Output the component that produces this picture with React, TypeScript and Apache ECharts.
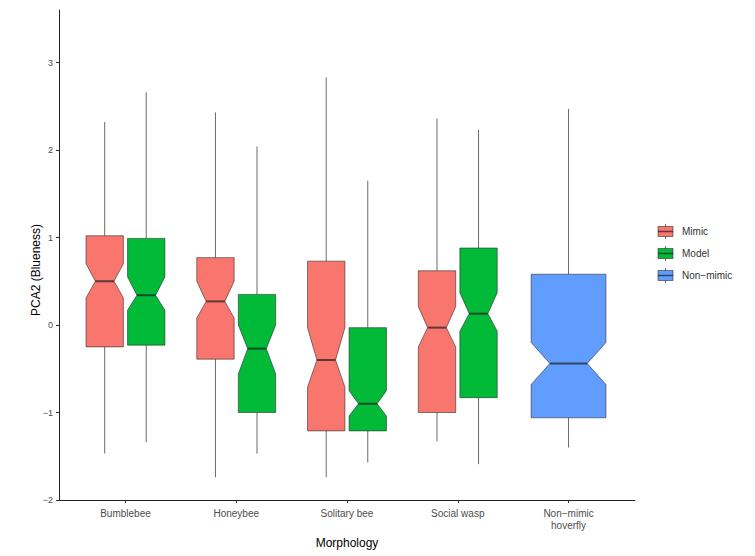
import React, { useEffect, useRef } from "react";
import * as echarts from "echarts";

// Categories (x axis)
const categories = ["Bumblebee", "Honeybee", "Solitary bee", "Social wasp", "Non−mimic\nhoverfly"];
const yTicks = [-2, -1, 0, 1, 2, 3];

// Mimic group (Bumblebee, Honeybee, Solitary bee, Social wasp)
const mimicLow = [-1.47, -1.74, -1.74, -1.33];
const mimicQ1 = [-0.25, -0.39, -1.21, -1.0];
const mimicNotchLo = [0.31, 0.08, -0.71, -0.25];
const mimicMedian = [0.5, 0.27, -0.4, -0.03];
const mimicNotchHi = [0.7, 0.5, -0.03, 0.21];
const mimicQ3 = [1.02, 0.77, 0.73, 0.62];
const mimicHigh = [2.32, 2.43, 2.83, 2.36];

// Model group
const modelLow = [-1.34, -1.47, -1.57, -1.59];
const modelQ1 = [-0.23, -1.0, -1.21, -0.83];
const modelNotchLo = [0.17, -0.56, -1.04, -0.07];
const modelMedian = [0.34, -0.27, -0.9, 0.13];
const modelNotchHi = [0.55, 0.0, -0.75, 0.37];
const modelQ3 = [0.99, 0.35, -0.03, 0.88];
const modelHigh = [2.66, 2.04, 1.65, 2.23];

// Non-mimic group (Non-mimic hoverfly only)
const nonLow = [-1.4];
const nonQ1 = [-1.06];
const nonNotchLo = [-0.68];
const nonMedian = [-0.44];
const nonNotchHi = [-0.2];
const nonQ3 = [0.58];
const nonHigh = [2.47];

const groups = ["Mimic", "Model", "Non−mimic"];
const colors = ["#F8766D", "#00BA38", "#619CFF"];

const FONT = "Liberation Sans, Arial, sans-serif";
const BORDER = "rgba(35,35,35,0.55)";
const MEDIAN = "rgba(30,30,30,0.7)";
const WHISKER = "#6a6a6a";

function buildRows(xs: number[], lo: number[], q1: number[], nlo: number[], med: number[], nhi: number[], q3: number[], hi: number[]) {
  return xs.map((x, i) => [x, lo[i], q1[i], nlo[i], med[i], nhi[i], q3[i], hi[i]]);
}

function makeRender(boxWidth: number) {
  return (params: any, api: any) => {
    const x = api.value(0);
    const lo = api.value(1), q1 = api.value(2), nlo = api.value(3), med = api.value(4);
    const nhi = api.value(5), q3 = api.value(6), hi = api.value(7);
    const yp = (v: number) => api.coord([x, v])[1];
    const cx = api.coord([x, med])[0];
    const w = api.size([boxWidth, 0])[0];
    const xl = cx - w / 2;
    const xr = cx + w / 2;
    const nw = w / 4;
    const color = api.visual("color");
    const pts = [
      [xl, yp(q3)], [xr, yp(q3)], [xr, yp(nhi)], [xr - nw, yp(med)], [xr, yp(nlo)],
      [xr, yp(q1)], [xl, yp(q1)], [xl, yp(nlo)], [xl + nw, yp(med)], [xl, yp(nhi)],
    ];
    return {
      type: "group",
      children: [
        { type: "line", shape: { x1: cx, y1: yp(q3), x2: cx, y2: yp(hi) }, style: { stroke: WHISKER, lineWidth: 1 } },
        { type: "line", shape: { x1: cx, y1: yp(q1), x2: cx, y2: yp(lo) }, style: { stroke: WHISKER, lineWidth: 1 } },
        { type: "polygon", shape: { points: pts }, style: { fill: color, stroke: BORDER, lineWidth: 1 } },
        { type: "line", shape: { x1: xl + nw, y1: yp(med), x2: xr - nw, y2: yp(med) }, style: { stroke: MEDIAN, lineWidth: 2 } },
      ],
    };
  };
}

export default function App() {
  const ref = useRef<HTMLDivElement>(null);
  useEffect(() => {
    document.body.style.margin = "0";
    if (!ref.current) return;
    const chart = echarts.init(ref.current, undefined, { renderer: "svg" });
    const dodge = 0.1875;
    const mimicRows = buildRows([1, 2, 3, 4].map((c) => c - dodge), mimicLow, mimicQ1, mimicNotchLo, mimicMedian, mimicNotchHi, mimicQ3, mimicHigh);
    const modelRows = buildRows([1, 2, 3, 4].map((c) => c + dodge), modelLow, modelQ1, modelNotchLo, modelMedian, modelNotchHi, modelQ3, modelHigh);
    const nonRows = buildRows([5], nonLow, nonQ1, nonNotchLo, nonMedian, nonNotchHi, nonQ3, nonHigh);

    const legendChildren: any[] = [];
    groups.forEach((g, i) => {
      const cy = 231.5 + i * 22;
      legendChildren.push(
        { type: "line", shape: { x1: 665.5, y1: cy - 7.5, x2: 665.5, y2: cy + 7.5 }, style: { stroke: WHISKER, lineWidth: 1 } },
        { type: "rect", shape: { x: 658, y: cy - 5, width: 15, height: 10 }, style: { fill: colors[i], stroke: BORDER, lineWidth: 1 } },
        { type: "line", shape: { x1: 658, y1: cy, x2: 673, y2: cy }, style: { stroke: MEDIAN, lineWidth: 1.5 } },
        { type: "text", x: 682, y: cy, style: { text: g, fill: "#333", font: `10px ${FONT}`, textVerticalAlign: "middle", textAlign: "left" } }
      );
    });

    chart.setOption({
      animation: false,
      backgroundColor: "#ffffff",
      textStyle: { fontFamily: FONT },
      grid: { left: 59, right: 120, top: 10, bottom: 56, containLabel: false, outerBoundsMode: "none" },
      xAxis: {
        type: "value",
        min: 0.4,
        max: 5.6,
        splitLine: { show: false },
        axisLine: { show: true, onZero: false, lineStyle: { color: "#222", width: 1 } },
        axisTick: { show: true, length: 3, customValues: [1, 2, 3, 4, 5], lineStyle: { color: "#333" } },
        axisLabel: {
          customValues: [1, 2, 3, 4, 5],
          formatter: (v: number) => categories[Math.round(v) - 1] ?? "",
          color: "#4d4d4d",
          fontSize: 10,
          lineHeight: 12,
          margin: 7,
          fontFamily: FONT,
        },
        name: "Morphology",
        nameLocation: "middle",
        nameGap: 37,
        nameTextStyle: { color: "#000", fontSize: 12, fontFamily: FONT },
      },
      yAxis: {
        type: "value",
        min: -2,
        max: 3.6,
        splitLine: { show: false },
        axisLine: { show: true, onZero: false, lineStyle: { color: "#222", width: 1 } },
        axisTick: { show: true, length: 3, customValues: yTicks, lineStyle: { color: "#333" } },
        axisLabel: {
          customValues: yTicks,
          formatter: (v: number) => (v < 0 ? "−" + Math.abs(v) : String(v)),
          color: "#4d4d4d",
          fontSize: 9,
          margin: 6,
          fontFamily: FONT,
        },
      },
      graphic: [
        {
          type: "text",
          x: 36,
          y: 270,
          rotation: Math.PI / 2,
          style: { text: "PCA2 (Blueness)", fill: "#000", font: `12px ${FONT}`, textAlign: "center", textVerticalAlign: "middle" },
        },
        { type: "group", children: legendChildren },
      ],
      series: [
        {
          type: "custom",
          name: groups[0],
          itemStyle: { color: colors[0] },
          renderItem: makeRender(0.3375),
          encode: { x: 0, y: [1, 2, 3, 4, 5, 6, 7] },
          data: mimicRows,
        },
        {
          type: "custom",
          name: groups[1],
          itemStyle: { color: colors[1] },
          renderItem: makeRender(0.3375),
          encode: { x: 0, y: [1, 2, 3, 4, 5, 6, 7] },
          data: modelRows,
        },
        {
          type: "custom",
          name: groups[2],
          itemStyle: { color: colors[2] },
          renderItem: makeRender(0.675),
          encode: { x: 0, y: [1, 2, 3, 4, 5, 6, 7] },
          data: nonRows,
        },
      ],
    });
    return () => chart.dispose();
  }, []);
  return <div ref={ref} style={{ width: 755, height: 556 }} />;
}
